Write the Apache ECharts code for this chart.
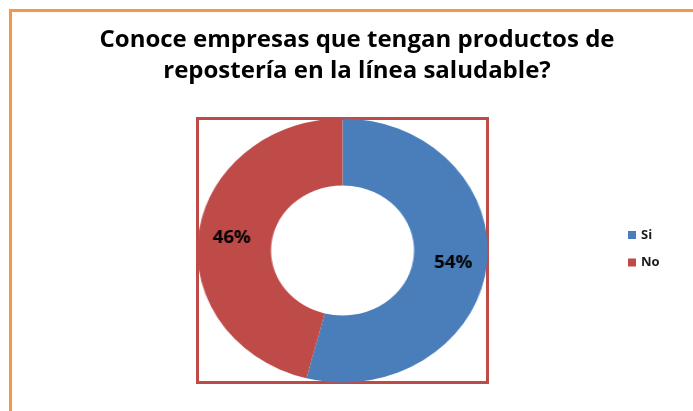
<!DOCTYPE html>
<html><head><meta charset="utf-8">
<script src="https://cdn.jsdelivr.net/npm/echarts@6/dist/echarts.min.js"></script>
<style>
html,body{margin:0;padding:0;background:#fff;}
#wrap{position:relative;width:693px;height:411px;overflow:hidden;background:#fff;}
#main{position:absolute;left:0;top:0;width:693px;height:411px;}
#pie{position:absolute;left:210px;top:118px;width:265px;height:265px;transform:scaleX(1.1);transform-origin:50% 50%;}
</style></head><body>
<div id="wrap"><div id="main"></div><div id="pie"></div></div>
<script>
const titleLines = ['Conoce empresas que tengan productos de', 'repostería en la línea saludable?'];
const categories = ['Si', 'No'];
const values = [54, 46];
const colors = ['#4A7EBB', '#BE4B48'];

const FONT = '"Open Sans"';
const main = echarts.init(document.getElementById('main'), null, {renderer: 'canvas'});
const els = [
  {type: 'rect', shape: {x: 10.5, y: 10.5, width: 720, height: 440}, style: {fill: 'none', stroke: '#F79646', lineWidth: 3}},
  {type: 'rect', shape: {x: 197.5, y: 118.5, width: 290, height: 264}, style: {fill: 'none', stroke: '#BE4B48', lineWidth: 3}}
];
titleLines.forEach(function (t, i) {
  els.push({type: 'text', x: 357, y: 40 + i * 31, style: {text: t, font: 'bold 24px ' + FONT, fill: '#000', textAlign: 'center', textVerticalAlign: 'middle'}});
});
categories.forEach(function (name, i) {
  els.push({type: 'rect', shape: {x: 628, y: 231 + i * 27.5, width: 8, height: 8}, style: {fill: colors[i]}});
  els.push({type: 'text', x: 641, y: 235 + i * 27.5, style: {text: name, font: 'bold 13px ' + FONT, fill: '#1a1a1a', textVerticalAlign: 'middle'}});
});
main.setOption({animation: false, graphic: els});

const pie = echarts.init(document.getElementById('pie'), null, {renderer: 'canvas'});
pie.setOption({
  animation: false,
  color: colors,
  series: [{
    type: 'pie',
    radius: [65, 132],
    center: ['50%', '50%'],
    startAngle: 90,
    clockwise: true,
    silent: true,
    label: {show: true, position: 'inside', formatter: '{c}%', fontWeight: 'bold', fontSize: 17, fontFamily: 'Open Sans', color: '#000'},
    labelLine: {show: false},
    itemStyle: {borderWidth: 0},
    data: categories.map(function (n, i) { return {name: n, value: values[i]}; })
  }]
});
</script>
</body></html>
